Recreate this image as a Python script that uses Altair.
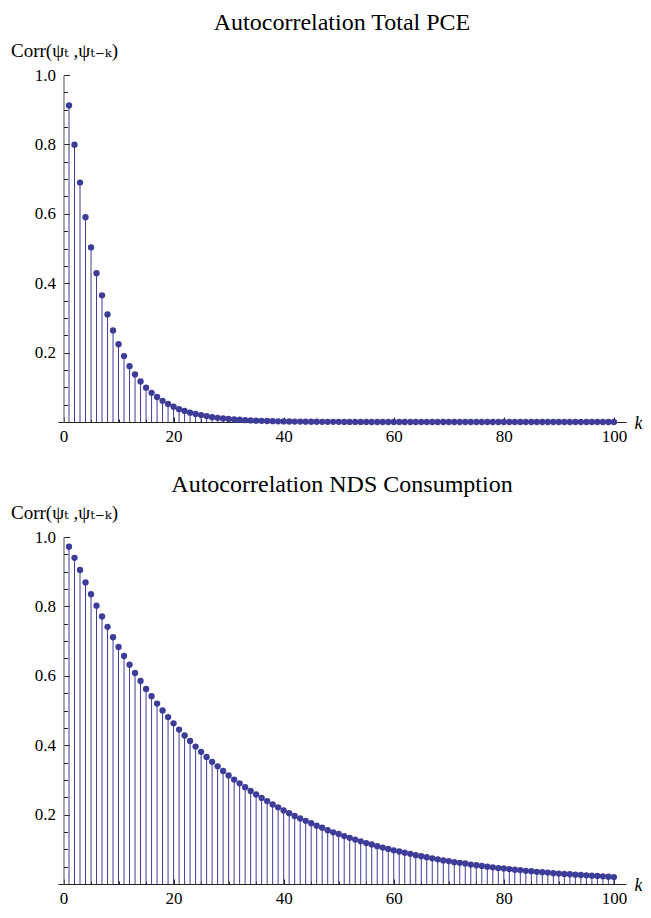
import altair as alt
import pandas as pd

K = list(range(1, 101))

TOTAL_PCE = [
    0.912, 0.799, 0.690, 0.590, 0.503, 0.429, 0.365, 0.310, 0.264, 0.224,
    0.190, 0.161, 0.137, 0.117, 0.099, 0.084, 0.072, 0.061, 0.052, 0.044,
    0.037, 0.032, 0.027, 0.023, 0.020, 0.017, 0.014, 0.012, 0.010, 0.0088,
    0.0075, 0.0064, 0.0054, 0.0046, 0.0039, 0.0033, 0.0028, 0.0024, 0.0020, 0.0017,
    0.0015, 0.0013, 0.0011, 0.0009, 0.0008, 0.0007, 0.0006, 0.0005, 0.0004, 0.0004,
    0.0003, 0.0003, 0.0002, 0.0002, 0.0002, 0.0001, 0.0001, 0.0001, 0.0001, 0.0001,
    0.0001, 0.0001, 0.0001, 0.0001, 0.0001, 0.0, 0.0, 0.0, 0.0, 0.0,
    0.0, 0.0, 0.0, 0.0, 0.0, 0.0, 0.0, 0.0, 0.0, 0.0,
    0.0, 0.0, 0.0, 0.0, 0.0, 0.0, 0.0, 0.0, 0.0, 0.0,
    0.0, 0.0, 0.0, 0.0, 0.0, 0.0, 0.0, 0.0, 0.0, 0.0,
]

NDS = [
    0.972, 0.940, 0.905, 0.869, 0.835, 0.802, 0.771, 0.741, 0.711, 0.683,
    0.657, 0.632, 0.608, 0.585, 0.562, 0.541, 0.520, 0.500, 0.481, 0.463,
    0.445, 0.428, 0.412, 0.396, 0.381, 0.366, 0.352, 0.339, 0.326, 0.313,
    0.301, 0.290, 0.279, 0.268, 0.258, 0.248, 0.239, 0.229, 0.221, 0.212,
    0.204, 0.196, 0.189, 0.182, 0.175, 0.168, 0.162, 0.155, 0.149, 0.144,
    0.138, 0.133, 0.128, 0.123, 0.118, 0.114, 0.109, 0.105, 0.101, 0.097,
    0.094, 0.090, 0.087, 0.083, 0.080, 0.077, 0.074, 0.071, 0.068, 0.066,
    0.063, 0.061, 0.059, 0.056, 0.054, 0.052, 0.050, 0.048, 0.046, 0.045,
    0.043, 0.041, 0.040, 0.038, 0.037, 0.035, 0.034, 0.033, 0.031, 0.030,
    0.029, 0.028, 0.027, 0.026, 0.025, 0.024, 0.023, 0.022, 0.021, 0.020,
]

TITLES = ["Autocorrelation Total PCE", "Autocorrelation NDS Consumption"]
Y_TITLE = "Corr(ψₜ ,ψₜ₋ₖ)"
X_TITLE = "k"

X_MAJOR = [0, 20, 40, 60, 80, 100]
X_MINOR = [5, 10, 15, 25, 30, 35, 45, 50, 55, 65, 70, 75, 85, 90, 95]
Y_MAJOR = [0.2, 0.4, 0.6, 0.8, 1.0]
Y_MINOR = [0.05, 0.1, 0.15, 0.25, 0.3, 0.35, 0.45, 0.5, 0.55,
           0.65, 0.7, 0.75, 0.85, 0.9, 0.95]

COLOR = "#3d3d99"
FONT = "Liberation Serif, DejaVu Serif, serif"
W, H = 568, 347


def neg(v):
    return alt.ExprRef(expr=str(-v))


def panel(title, vals):
    df = pd.DataFrame({"k": K, "corr": vals})
    xs = alt.Scale(domain=[-1, 102.2], nice=False, zero=False)
    ys = alt.Scale(domain=[0, 1], nice=False, zero=False)

    x_major = alt.Axis(
        orient="bottom", values=X_MAJOR, format="d", grid=False,
        tickSize=neg(5), tickColor="#222222", tickWidth=1,
        domainColor="#222222", domainWidth=1,
        labelFont=FONT, labelFontSize=17, labelColor="black", labelPadding=11,
        title=X_TITLE, titleFont=FONT, titleFontSize=18, titleFontStyle="italic",
        titleFontWeight="normal", titleColor="black",
        titleX=580, titleY=1, titleAlign="center", titleBaseline="middle",
    )
    x_minor = alt.Axis(
        orient="bottom", values=X_MINOR, grid=False, labels=False, domain=False,
        tickSize=neg(3), tickColor="#222222", tickWidth=1, title=None,
    )
    y_major = alt.Axis(
        orient="left", values=Y_MAJOR, format=".1f", grid=False, offset=-5.5,
        tickSize=neg(6), tickColor="#222222", tickWidth=1,
        domainColor="#7a7a7a", domainWidth=1.3,
        labelFont=FONT, labelFontSize=17, labelColor="black", labelPadding=14,
        title=Y_TITLE, titleFont=FONT, titleFontSize=19, titleFontWeight="normal",
        titleColor="black", titleAngle=0, titleX=-53, titleY=-25,
        titleAlign="left", titleBaseline="middle",
    )
    y_minor = alt.Axis(
        orient="left", values=Y_MINOR, grid=False, labels=False, domain=False,
        offset=-5.5, tickSize=neg(4), tickColor="#222222", tickWidth=1, title=None,
    )

    base = alt.Chart(df)
    stems = base.mark_rule(color=COLOR, strokeWidth=1).encode(
        x=alt.X("k:Q", scale=xs, axis=x_major),
        y=alt.Y("corr:Q", scale=ys, axis=y_major),
        y2=alt.datum(0),
    )
    dots = base.mark_circle(color=COLOR, size=40, opacity=1).encode(
        x=alt.X("k:Q", scale=xs, axis=x_minor),
        y=alt.Y("corr:Q", scale=ys, axis=y_minor),
    )
    return (
        alt.layer(stems, dots)
        .resolve_axis(x="independent", y="independent")
        .properties(
            width=W, height=H,
            title=alt.TitleParams(
                text=title, font=FONT, fontSize=24, fontWeight="normal",
                color="black", anchor="middle", offset=6,
            ),
        )
    )


chart = (
    alt.vconcat(panel(TITLES[0], TOTAL_PCE), panel(TITLES[1], NDS), spacing=29)
    .properties(padding={"left": 2, "top": 3, "right": 0, "bottom": 0})
    .configure_view(stroke=None)
)

chart.save("out.html", embed_options={"renderer": "svg", "actions": False})
